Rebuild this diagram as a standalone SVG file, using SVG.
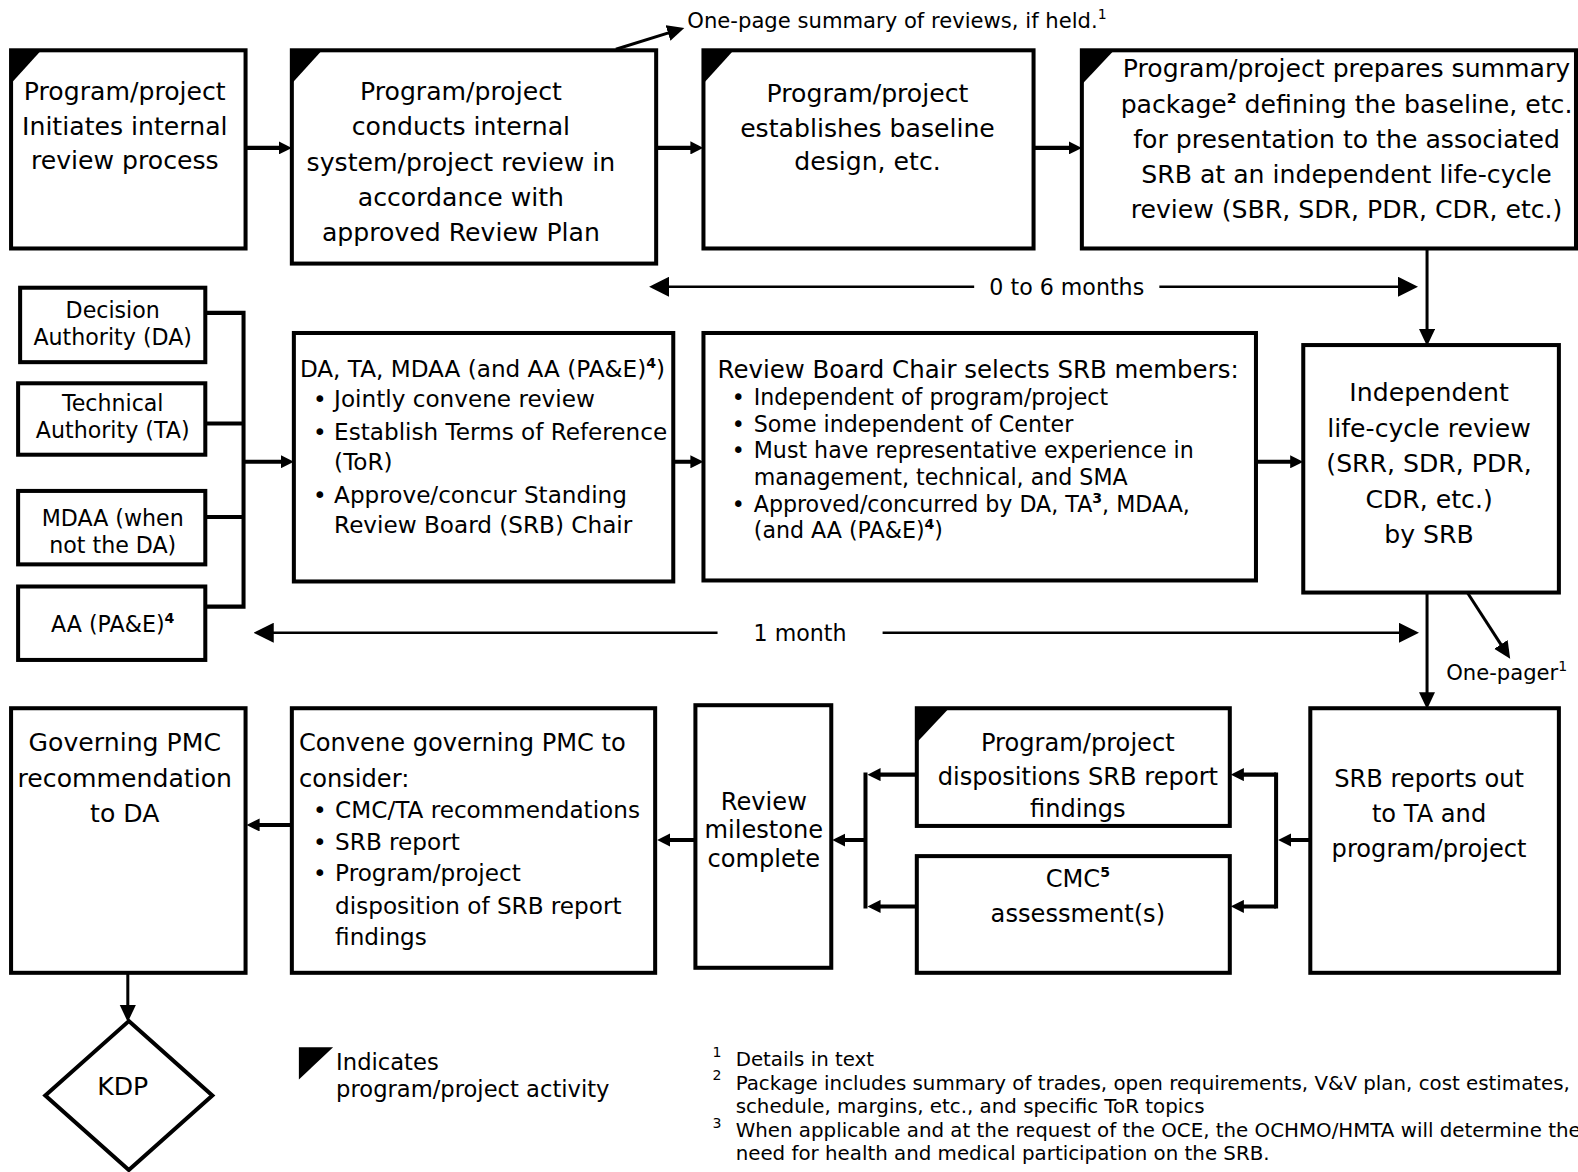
<svg xmlns="http://www.w3.org/2000/svg" width="1578" height="1172" viewBox="0 0 1578 1172">
<defs>
<style>
.box{fill:#fff;stroke:#000;stroke-width:4}
.tri{fill:#000;stroke:none}
text{font-family:"DejaVu Sans",Verdana,sans-serif;fill:#000}
.c{text-anchor:middle}
.f25{font-size:25px}
.f24{font-size:24px}
.f23{font-size:23px}
.f22{font-size:22px}
.f21{font-size:21px}
.fn{font-size:19.7px}
.sup{font-size:14px}
.sp{font-size:14px;font-weight:bold}
.conn{stroke:#000;stroke-width:4;fill:none}
.mid{stroke:#000;stroke-width:3;fill:none}
.thin{stroke:#000;stroke-width:2.5;fill:none}
</style>
<marker id="ah" markerUnits="userSpaceOnUse" markerWidth="13" markerHeight="13" refX="7" refY="6.5" orient="auto"><path d="M0,0 L13,6.5 L0,13 z" fill="#000"/></marker>
<marker id="ahm" markerUnits="userSpaceOnUse" markerWidth="17" markerHeight="17" refX="8" refY="8" orient="auto"><path d="M0,0 L17,8 L0,16 z" fill="#000"/></marker>
<marker id="ahb" markerUnits="userSpaceOnUse" markerWidth="20" markerHeight="20" refX="10" refY="10" orient="auto"><path d="M0,0 L20,10 L0,20 z" fill="#000"/></marker>
</defs>
<rect width="1578" height="1172" fill="#fff"/>
<g transform="scale(1.00638,1.00601)">

<g id="connectors">
<line class="conn" x1="244" y1="147" x2="284" y2="147" marker-end="url(#ah)"/>
<line class="conn" x1="652" y1="147" x2="693" y2="147" marker-end="url(#ah)"/>
<line class="conn" x1="1027" y1="147" x2="1069" y2="147" marker-end="url(#ah)"/>
<line class="mid" x1="612" y1="49" x2="671.4" y2="30.4" marker-end="url(#ahm)"/>
<line class="mid" x1="1418" y1="247" x2="1418" y2="335" marker-end="url(#ahm)"/>
<line class="thin" x1="968" y1="285" x2="655" y2="285" marker-end="url(#ahb)"/>
<line class="thin" x1="1152" y1="285" x2="1399" y2="285" marker-end="url(#ahb)"/>
<polyline class="conn" points="204,311 242,311 242,603 204,603"/>
<line class="conn" x1="204" y1="421" x2="242" y2="421"/>
<line class="conn" x1="204" y1="514" x2="242" y2="514"/>
<line class="conn" x1="242" y1="459" x2="286" y2="459" marker-end="url(#ah)"/>
<line class="conn" x1="669" y1="459" x2="693" y2="459" marker-end="url(#ah)"/>
<line class="conn" x1="1248" y1="459" x2="1289" y2="459" marker-end="url(#ah)"/>
<line class="thin" x1="713" y1="629" x2="262" y2="629" marker-end="url(#ahb)"/>
<line class="thin" x1="877" y1="629" x2="1400" y2="629" marker-end="url(#ahb)"/>
<line class="mid" x1="1418" y1="589" x2="1418" y2="696" marker-end="url(#ahm)"/>
<line class="mid" x1="1458" y1="589" x2="1495.7" y2="647.3" marker-end="url(#ahm)"/>
<line class="conn" x1="1302" y1="835" x2="1276" y2="835" marker-end="url(#ah)"/>
<line class="conn" x1="1268" y1="768" x2="1268" y2="903"/>
<line class="conn" x1="1268" y1="770" x2="1229" y2="770" marker-end="url(#ah)"/>
<line class="conn" x1="1268" y1="901" x2="1229" y2="901" marker-end="url(#ah)"/>
<line class="conn" x1="911" y1="770" x2="868" y2="770" marker-end="url(#ah)"/>
<line class="conn" x1="911" y1="901" x2="868" y2="901" marker-end="url(#ah)"/>
<line class="conn" x1="860" y1="768" x2="860" y2="903"/>
<line class="conn" x1="860" y1="835" x2="833" y2="835" marker-end="url(#ah)"/>
<line class="conn" x1="691" y1="835" x2="659" y2="835" marker-end="url(#ah)"/>
<line class="conn" x1="290" y1="820" x2="251" y2="820" marker-end="url(#ah)"/>
<line class="mid" x1="127" y1="967" x2="127" y2="1007" marker-end="url(#ahm)"/>
</g>

<g id="labels">
<text class="f21" x="683" y="28">One-page summary of reviews, if held.<tspan class="sup" dy="-9">1</tspan></text>
<text class="f22 c" x="1060" y="293">0 to 6 months</text>
<text class="f22 c" x="795" y="637">1 month</text>
<text class="f21" x="1437" y="676">One-pager<tspan class="sup" dy="-9">1</tspan></text>
</g>

<g id="n1">
<rect class="box" x="11" y="50" width="233" height="197"/>
<polygon class="tri" points="11,50 41,50 11,83"/>
<text class="f25 c" x="124" y="99">Program/project</text>
<text class="f25 c" x="124" y="134">Initiates internal</text>
<text class="f25 c" x="124" y="168">review process</text>
</g>
<g id="n2">
<rect class="box" x="290" y="50" width="362" height="212"/>
<polygon class="tri" points="290,50 320,50 290,83"/>
<text class="f25 c" x="458" y="99">Program/project</text>
<text class="f25 c" x="458" y="134">conducts internal</text>
<text class="f25 c" x="458" y="170">system/project review in</text>
<text class="f25 c" x="458" y="205">accordance with</text>
<text class="f25 c" x="458" y="240">approved Review Plan</text>
</g>
<g id="n3">
<rect class="box" x="699" y="50" width="328" height="197"/>
<polygon class="tri" points="699,50 729,50 699,83"/>
<text class="f25 c" x="862" y="101">Program/project</text>
<text class="f25 c" x="862" y="136">establishes baseline</text>
<text class="f25 c" x="862" y="169">design, etc.</text>
</g>
<g id="n4">
<rect class="box" x="1075" y="50" width="491" height="197"/>
<polygon class="tri" points="1075,50 1107,50 1075,84"/>
<text class="f25 c" x="1338" y="77">Program/project prepares summary</text>
<text class="f25 c" x="1338" y="112">package<tspan class="sp" dy="-10">2</tspan><tspan dy="10"> defining the baseline, etc.</tspan></text>
<text class="f25 c" x="1338" y="147">for presentation to the associated</text>
<text class="f25 c" x="1338" y="182">SRB at an independent life-cycle</text>
<text class="f25 c" x="1338" y="217">review (SBR, SDR, PDR, CDR, etc.)</text>
</g>

<g id="da">
<rect class="box" x="20" y="286" width="184" height="74"/>
<text class="f22 c" x="112" y="316">Decision</text>
<text class="f22 c" x="112" y="343">Authority (DA)</text>
</g>
<g id="ta">
<rect class="box" x="18" y="381" width="186" height="71"/>
<text class="f22 c" x="112" y="409">Technical</text>
<text class="f22 c" x="112" y="435">Authority (TA)</text>
</g>
<g id="mdaa">
<rect class="box" x="18" y="488" width="186" height="73"/>
<text class="f22 c" x="112" y="523">MDAA (when</text>
<text class="f22 c" x="112" y="550">not the DA)</text>
</g>
<g id="aa">
<rect class="box" x="18" y="583" width="186" height="73"/>
<text class="f22 c" x="112" y="628">AA (PA&amp;E)<tspan class="sp" dy="-9">4</tspan></text>
</g>

<g id="convene-review">
<rect class="box" x="292" y="331" width="377" height="247"/>
<text class="f23" x="298" y="375">DA, TA, MDAA (and AA (PA&amp;E)<tspan class="sp" dy="-9">4</tspan><tspan dy="9">)</tspan></text>
<text class="f23" x="311" y="405">•</text><text class="f23" x="332" y="405">Jointly convene review</text>
<text class="f23" x="311" y="437">•</text><text class="f23" x="332" y="437">Establish Terms of Reference</text>
<text class="f23" x="332" y="467">(ToR)</text>
<text class="f23" x="311" y="500">•</text><text class="f23" x="332" y="500">Approve/concur Standing</text>
<text class="f23" x="332" y="530">Review Board (SRB) Chair</text>
</g>

<g id="select-srb">
<rect class="box" x="699" y="331" width="549" height="246"/>
<text class="f24" x="713" y="376" style="font-size:24.3px">Review Board Chair selects SRB members:</text>
<text class="f22" x="727" y="403">•</text><text class="f22" x="749" y="403">Independent of program/project</text>
<text class="f22" x="727" y="429">•</text><text class="f22" x="749" y="429">Some independent of Center</text>
<text class="f22" x="727" y="455">•</text><text class="f22" x="749" y="455">Must have representative experience in</text>
<text class="f22" x="749" y="482">management, technical, and SMA</text>
<text class="f22" x="727" y="509">•</text><text class="f22" x="749" y="509">Approved/concurred by DA, TA<tspan class="sp" dy="-9">3</tspan><tspan dy="9">, MDAA,</tspan></text>
<text class="f22" x="749" y="535">(and AA (PA&amp;E)<tspan class="sp" dy="-9">4</tspan><tspan dy="9">)</tspan></text>
</g>

<g id="independent-review">
<rect class="box" x="1295" y="343" width="254" height="246"/>
<text class="f25 c" x="1420" y="399">Independent</text>
<text class="f25 c" x="1420" y="434">life-cycle review</text>
<text class="f25 c" x="1420" y="469">(SRR, SDR, PDR,</text>
<text class="f25 c" x="1420" y="505">CDR, etc.)</text>
<text class="f25 c" x="1420" y="540">by SRB</text>
</g>

<g id="governing">
<rect class="box" x="11" y="704" width="233" height="263"/>
<text class="f25 c" x="124" y="747">Governing PMC</text>
<text class="f25 c" x="124" y="782">recommendation</text>
<text class="f25 c" x="124" y="817">to DA</text>
</g>
<g id="convene-pmc">
<rect class="box" x="290" y="704" width="361" height="263"/>
<text class="f24" x="297" y="747">Convene governing PMC to</text>
<text class="f24" x="297" y="782">consider:</text>
<text class="f23" x="311" y="813">•</text><text class="f23" x="333" y="813">CMC/TA recommendations</text>
<text class="f23" x="311" y="845">•</text><text class="f23" x="333" y="845">SRB report</text>
<text class="f23" x="311" y="876">•</text><text class="f23" x="333" y="876">Program/project</text>
<text class="f23" x="333" y="909">disposition of SRB report</text>
<text class="f23" x="333" y="939">findings</text>
</g>
<g id="milestone">
<rect class="box" x="691" y="701" width="135" height="261"/>
<text class="f24 c" x="759" y="805">Review</text>
<text class="f24 c" x="759" y="833">milestone</text>
<text class="f24 c" x="759" y="862">complete</text>
</g>
<g id="dispositions">
<rect class="box" x="911" y="704" width="311" height="117"/>
<polygon class="tri" points="911,704 943,704 911,738"/>
<text class="f24 c" x="1071" y="747">Program/project</text>
<text class="f24 c" x="1071" y="780">dispositions SRB report</text>
<text class="f24 c" x="1071" y="812">findings</text>
</g>
<g id="cmc">
<rect class="box" x="911" y="851" width="311" height="116"/>
<text class="f24 c" x="1071" y="882">CMC<tspan class="sp" dy="-10">5</tspan></text>
<text class="f24 c" x="1071" y="916">assessment(s)</text>
</g>
<g id="srb-reports">
<rect class="box" x="1302" y="704" width="247" height="263"/>
<text class="f24 c" x="1420" y="782">SRB reports out</text>
<text class="f24 c" x="1420" y="817">to TA and</text>
<text class="f24 c" x="1420" y="852">program/project</text>
</g>
<g id="kdp">
<polygon class="box" points="128,1015 211,1089 128,1163 45,1089"/>
<text class="f25 c" x="122" y="1088">KDP</text>
</g>

<g id="legend">
<polygon class="tri" points="297,1041 331,1041 297,1073"/>
<text class="f22" x="334" y="1064" style="font-size:22.5px">Indicates</text>
<text class="f22" x="334" y="1090" style="font-size:22.5px">program/project activity</text>
</g>

<g id="footnotes">
<text class="sup" x="708" y="1051">1</text>
<text class="fn" x="731" y="1060">Details in text</text>
<text class="sup" x="708" y="1074">2</text>
<text class="fn" x="731" y="1083">Package includes summary of trades, open requirements, V&amp;V plan, cost estimates,</text>
<text class="fn" x="731" y="1106">schedule, margins, etc., and specific ToR topics</text>
<text class="sup" x="708" y="1121">3</text>
<text class="fn" x="731" y="1130">When applicable and at the request of the OCE, the OCHMO/HMTA will determine the</text>
<text class="fn" x="731" y="1153">need for health and medical participation on the SRB.</text>
</g>
</g>
</svg>
